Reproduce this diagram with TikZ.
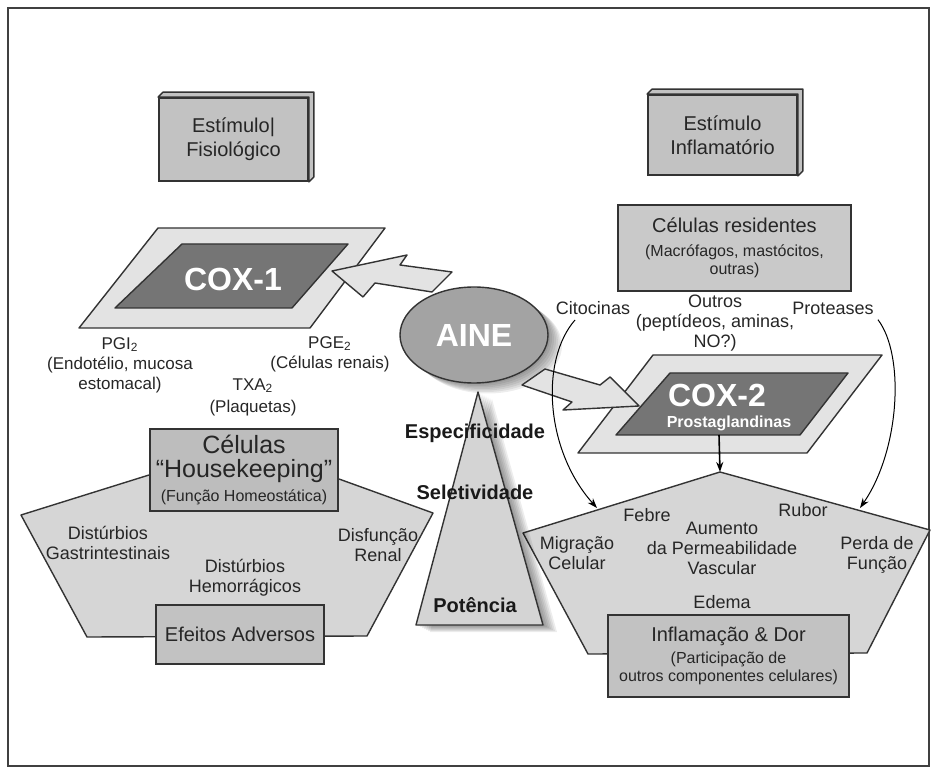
\documentclass[tikz,border=0pt]{standalone}
\usepackage{fontspec}
\setmainfont{Liberation Sans}
\usetikzlibrary{shapes.geometric,arrows.meta}

\definecolor{cxcinza}{gray}{0.76}
\definecolor{cxclaro}{gray}{0.89}
\definecolor{cxescuro}{gray}{0.46}
\definecolor{pentcinza}{gray}{0.84}
\definecolor{elipcinza}{gray}{0.64}
\definecolor{tricinza}{gray}{0.83}

\newcommand{\tam}[2]{\fontsize{#1}{#2}\selectfont}

\begin{document}
\begin{tikzpicture}[x=0.5pt,y=-0.5pt,
    caixa/.style={draw=black!80, line width=0.9pt, fill=cxcinza, align=center, inner sep=0pt, text=black!85},
    texto/.style={align=center, inner sep=0pt, text=black!85, font=\tam{9}{10}},
    negrito/.style={inner sep=0pt, text=black!90, font=\bfseries\tam{10}{12}},
    forma/.style={draw=black!80, line width=0.7pt, line join=round},
    seta/.style={forma, fill=cxclaro},
    curva/.style={-{Stealth[length=5pt,width=3.5pt]}, line width=0.5pt}
]

    \useasboundingbox (0,0) rectangle (936,774);
    \draw[line width=0.8pt, black!75] (8,8) rectangle (929,766);

    % Estimulos
    \node[caixa, minimum width=74.5pt, minimum height=41.5pt, font=\tam{10}{12}] (estfis) at (233.5,139.5) {Estímulo|\\Fisiológico};
    \node[caixa, minimum width=74.5pt, minimum height=40pt, font=\tam{10}{12}] (estinf) at (722.5,135) {Estímulo\\Inflamatório};
    \foreach \b in {estfis,estinf}
        \draw[forma, fill=cxcinza] (\b.north west) -- ++(5,-5) -- ([shift={(5,-5)}]\b.north east)
            -- ([shift={(5,-5)}]\b.south east) -- (\b.south east) -- (\b.north east) -- cycle;

    \node[caixa, fill=black!21, minimum width=116.5pt, minimum height=43pt, font=\tam{8}{9}] (celres) at (734.5,248)
        {{\tam{10}{12}Células residentes}\\[3pt](Macrófagos, mastócitos,\\outras)};

    % COX-1
    \draw[forma, fill=cxclaro] (158,228) -- (385,228) -- (310,328) -- (79,328) -- cycle;
    \draw[forma, fill=cxescuro] (182,244) -- (348,244) -- (292,308) -- (115,308) -- cycle;
    \node[inner sep=0pt, text=white, font=\bfseries\tam{16}{18}] (cox1) at (233,279) {COX-1};

    % COX-2
    \draw[forma, fill=cxclaro] (653,355) -- (882,355) -- (807,453) -- (578,453) -- cycle;
    \draw[forma, fill=cxescuro] (670,373) -- (848,373) -- (800,435) -- (616,435) -- cycle;
    \node[inner sep=0pt, text=white, font=\bfseries\tam{16}{18}] (cox2) at (717,395) {COX-2};
    \node[inner sep=0pt, text=white, font=\bfseries\tam{8}{9}] (prost) at (729,423) {Prostaglandinas};
    \coordinate (cox2base) at (719,435);

    % AINE
    \foreach \d in {1,...,7}
        \fill[black, opacity=0.07, shift={(2*\d,1.5*\d)}] (474,335) ellipse [x radius=37pt, y radius=24pt];
    \node[ellipse, forma, fill=elipcinza, minimum width=74pt, minimum height=48pt, inner sep=0pt,
        text=white, font=\bfseries\tam{16}{18}] (aine) at (474,335) {AINE};

    % Setas largas
    \draw[seta] (332,271) -- (407,255) -- (400,265) -- (452,272) -- (432,292) -- (375,283) -- (363,297) -- cycle;
    \draw[seta] (522,385) -- (545,369) -- (600,385) -- (610,377) -- (639,406) -- (563,410) -- (572,402) -- cycle;

    % Prostanoides
    \node[texto, font=\tam{8.5}{10}] (pgi) at (120,365) {PGI\textsubscript{2}\\(Endotélio, mucosa\\estomacal)};
    \node[texto, font=\tam{8.5}{10}] (pge) at (330,354) {PGE\textsubscript{2}\\(Células renais)};
    \node[texto, font=\tam{8.5}{11}] (txa) at (253,397) {TXA\textsubscript{2}\\(Plaquetas)};

    % Mediadores
    \node[texto] (cito) at (593,308) {Citocinas};
    \node[texto] (outros) at (715,323) {Outros\\(peptídeos, aminas,\\NO?)};
    \node[texto] (prot) at (833,308) {Proteases};

    % Pentagono esquerdo
    \draw[forma, fill=pentcinza] (245,445) -- (433,513) -- (367,636) -- (87,637) -- (21,515) -- cycle;
    \node[texto] (gastro) at (108,543) {Distúrbios\\Gastrintestinais};
    \node[texto] (renal) at (378,545) {Disfunção\\Renal};
    \node[texto] (hemo) at (245,578) {Distúrbios\\Hemorrágicos};
    \node[caixa, fill=black!26, minimum width=94pt, minimum height=41pt, font=\tam{8}{12}] (house) at (244,470)
        {{\tam{12.5}{12}Células}\\{\tam{12.5}{12}“Housekeeping”}\\(Função Homeostática)};
    \node[caixa, fill=black!24, minimum width=84pt, minimum height=29.5pt, font=\tam{10}{12}] (efeitos) at (240,634.5) {Efeitos Adversos};

    % Pentagono direito
    \coordinate (pdtopo) at (720,472);
    \coordinate (citofim) at (597,508);
    \coordinate (protfim) at (860,508);
    \draw[forma, fill=pentcinza] (pdtopo) -- (930,530) -- (867,653) -- (588,654) -- (523,533) -- cycle;
    \node[texto] (febre) at (647,515) {Febre};
    \node[texto] (rubor) at (803,510) {Rubor};
    \node[texto] (permeab) at (722,548) {Aumento\\da Permeabilidade\\Vascular};
    \node[texto] (migra) at (577,553) {Migração\\Celular};
    \node[texto] (perda) at (877,555) {Perda de\\Função};
    \node[texto] (edema) at (722,602) {Edema};
    \node[caixa, fill=black!24, minimum width=120.5pt, minimum height=41pt, font=\tam{8}{9}] (inflam) at (728.5,656)
        {{\tam{10}{12}Inflamação \& Dor}\\[2pt](Participação de\\outros componentes celulares)};

    % Triangulo
    \foreach \d in {1,...,7}
        \fill[black, opacity=0.07, shift={(2*\d,\d)}] (478,392) -- (543,625) -- (416,625) -- cycle;
    \draw[forma, fill=tricinza] (478,392) -- (543,625) -- (416,625) -- cycle;
    \node[negrito] (espec) at (475,433) {Especificidade};
    \node[negrito] (selet) at (475,492) {Seletividade};
    \node[negrito] (potenc) at (475,605) {Potência};

    % Conectores
    \draw[curva] ([shift={(-18,5)}]cito.south) .. controls (540,360) and (545,450) .. (citofim);
    \draw[curva] ([shift={(4,5)}]prot.south east) .. controls (905,355) and (900,450) .. (protfim);
    \draw[-{Stealth[length=5pt,width=3.5pt]}, line width=0.8pt] (cox2base) -- (pdtopo);

\end{tikzpicture}
\end{document}
